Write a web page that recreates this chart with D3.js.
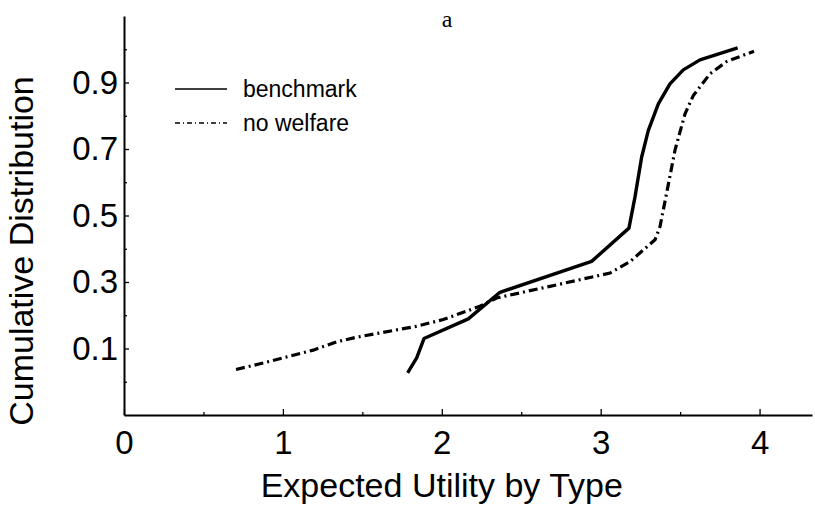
<!DOCTYPE html>
<html>
<head>
<meta charset="utf-8">
<script src="https://cdn.jsdelivr.net/npm/d3@7"></script>
<style>
  body { margin: 0; background: #fff; }
  text { font-family: "Liberation Sans", Arial, sans-serif; }
</style>
</head>
<body>
<div id="chart"></div>
<script>
// values
var benchX = [1.785, 1.842, 1.888, 2.167, 2.366, 2.943, 3.178, 3.216, 3.258, 3.300, 3.363, 3.436, 3.520, 3.625, 3.862];
var benchY = [0.027, 0.072, 0.130, 0.189, 0.269, 0.362, 0.462, 0.556, 0.676, 0.756, 0.836, 0.896, 0.938, 0.968, 1.004];

var noWelfareX = [0.705, 0.856, 1.045, 1.191, 1.339, 1.465, 1.842, 2.009, 2.240, 2.345, 2.681, 3.059, 3.184, 3.342, 3.373, 3.415, 3.468, 3.531, 3.583, 3.688, 3.793, 3.965];
var noWelfareY = [0.037, 0.054, 0.077, 0.095, 0.120, 0.134, 0.167, 0.187, 0.227, 0.252, 0.287, 0.327, 0.361, 0.427, 0.466, 0.567, 0.697, 0.806, 0.861, 0.926, 0.963, 0.994];

var xTicks = [0, 1, 2, 3, 4];
var xMinor = [0.5, 1.5, 2.5, 3.5];
var yTicks = [0.1, 0.3, 0.5, 0.7, 0.9];
var yMinor = [0, 0.2, 0.4, 0.6, 0.8, 1.0];

var seriesNames = ["benchmark", "no welfare"];

var W = 815, H = 510;
var plotLeft = 124, plotRight = 812, plotTop = 16, plotBottom = 415;

var svg = d3.select("#chart").append("svg")
  .attr("width", W)
  .attr("height", H);

var x = d3.scaleLinear().domain([0, 4.33]).range([plotLeft, plotRight]);
var y = d3.scaleLinear().domain([-0.1, 1.1]).range([plotBottom, plotTop]);

// minor ticks first, no labels
svg.append("g")
  .attr("transform", "translate(" + plotLeft + ",0)")
  .call(d3.axisLeft(y).tickValues(yMinor).tickSizeInner(-3).tickSizeOuter(0).tickFormat(""))
  .call(function(g) { g.select(".domain").remove(); });

svg.append("g")
  .attr("transform", "translate(0," + plotBottom + ")")
  .call(d3.axisBottom(x).tickValues(xMinor).tickSizeInner(-3).tickSizeOuter(0).tickFormat(""))
  .call(function(g) { g.select(".domain").remove(); });

// Y axis
svg.append("g")
  .attr("transform", "translate(" + plotLeft + ",0)")
  .call(d3.axisLeft(y).tickValues(yTicks).tickSizeInner(-5).tickSizeOuter(0).tickPadding(6)
    .tickFormat(d3.format(".1f")));

// X axis
svg.append("g")
  .attr("transform", "translate(0," + plotBottom + ")")
  .call(d3.axisBottom(x).tickValues(xTicks).tickSizeInner(-6).tickSizeOuter(0).tickPadding(16)
    .tickFormat(d3.format("d")));

svg.selectAll(".domain").attr("stroke-width", 2);
svg.selectAll(".tick line").attr("stroke-width", 1.3);
svg.selectAll(".tick text")
  .attr("font-family", "'Liberation Sans', Arial, sans-serif")
  .attr("font-size", 33)
  .attr("fill", "#000");

// axis titles
svg.append("text")
  .attr("x", x(2))
  .attr("y", 497)
  .attr("text-anchor", "middle")
  .attr("font-size", 34)
  .text("Expected Utility by Type");

svg.append("text")
  .attr("transform", "translate(33," + 251 + ")rotate(-90)")
  .attr("text-anchor", "middle")
  .attr("font-size", 34)
  .text("Cumulative Distribution");

svg.append("text")
  .attr("x", 447)
  .attr("y", 27)
  .attr("text-anchor", "middle")
  .style("font-family", "'Liberation Serif', 'Times New Roman', serif")
  .attr("font-size", 24)
  .text("a");

// lines
var line = d3.line()
  .x(function(d) { return x(d[0]); })
  .y(function(d) { return y(d[1]); });

svg.append("path")
  .datum(d3.zip(noWelfareX, noWelfareY))
  .attr("fill", "none")
  .attr("stroke", "#000")
  .attr("stroke-width", 3.2)
  .attr("stroke-dasharray", "9,4,2,4")
  .attr("d", line);

svg.append("path")
  .datum(d3.zip(benchX, benchY))
  .attr("fill", "none")
  .attr("stroke", "#000")
  .attr("stroke-width", 3.4)
  .attr("stroke-linejoin", "round")
  .attr("d", line);

// legend
var legend = svg.append("g");
var legendY = [89, 123];
var legendDash = [null, "5,3,1,3"];

legend.selectAll("line")
  .data(seriesNames)
  .enter()
  .append("line")
  .attr("x1", 175)
  .attr("x2", 227)
  .attr("y1", function(d, i) { return legendY[i]; })
  .attr("y2", function(d, i) { return legendY[i]; })
  .attr("stroke", "#000")
  .attr("stroke-width", 1.5)
  .attr("stroke-dasharray", function(d, i) { return legendDash[i]; });

legend.selectAll("text")
  .data(seriesNames)
  .enter()
  .append("text")
  .attr("x", 243)
  .attr("y", function(d, i) { return legendY[i] + 8; })
  .attr("font-size", 23)
  .text(function(d) { return d; });
</script>
</body>
</html>
